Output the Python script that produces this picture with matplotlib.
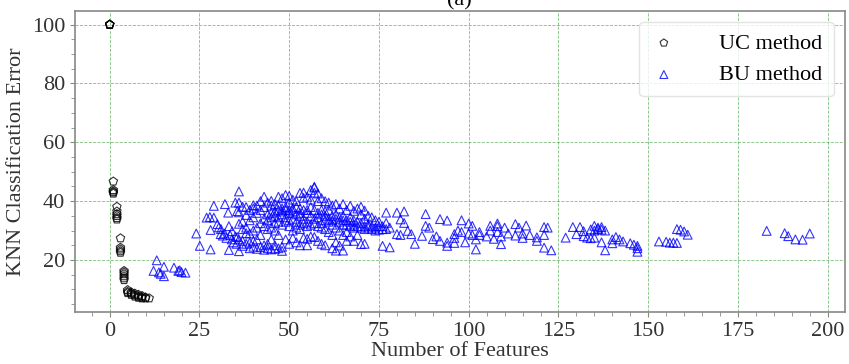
import numpy as np
import matplotlib
matplotlib.use("Agg")
import matplotlib.pyplot as plt
from matplotlib.ticker import MultipleLocator

plt.rcParams['font.family'] = ['Liberation Serif', 'DejaVu Serif']

# UC method: (number of features, error)
uc_x = [0, 0, 0, 0, 0,
        1, 1, 1, 1, 1,
        2, 2, 2, 2, 2, 2,
        3, 3, 3, 3, 3,
        4, 4, 4, 4, 4, 4,
        5, 5, 5, 6, 6, 6, 7, 7, 7, 8, 8, 8, 9, 9, 9, 10, 10, 11]
uc_y = [100, 100, 100, 100, 100,
        46.7, 43.8, 43.3, 43.0, 42.6,
        38.1, 36.5, 35.6, 35.0, 34.3, 33.8,
        27.4, 24.2, 23.6, 23.0, 22.5,
        16.3, 15.8, 15.2, 14.5, 13.8, 13.2,
        9.8, 9.2, 8.8, 9.0, 8.6, 8.2, 8.6, 8.0, 7.6, 8.2, 7.6, 7.2, 7.8, 7.3, 7.0, 7.3, 7.0, 7.0]

# BU method, small feature sets
bu_x_low = [12.2, 13.1, 13.7, 14.2, 15.1, 15.1, 17.9, 19.1, 19.5, 20.0, 21.1, 24.1, 25.1]
bu_y_low = [16.3, 19.9, 15.8, 15.3, 14.5, 17.7, 17.4, 16.3, 16.5, 15.9, 15.7, 29.0, 24.8]

bu_x_start = [27.0, 27.9, 28.1, 28.1, 29.0, 29.0, 30.0, 30.4, 30.9, 31.0, 31.5, 32.1, 32.0,
              32.5, 33.0, 33.2, 33.2, 33.5, 34.1, 34.0, 34.5, 35.0, 35.0, 35.5, 35.3, 35.5]
bu_y_start = [34.4, 34.6, 30.2, 23.6, 38.4, 34.4, 32.2, 31.1, 28.8, 30.5, 28.3, 39.0, 29.0,
              27.5, 36.1, 31.5, 23.4, 28.5, 29.8, 27.0, 26.0, 39.5, 28.0, 36.6, 25.5, 27.8]

# BU method, dense band: errors read per feature count
bu_cols = [36, 37, 38, 39, 40, 41, 42, 43, 44, 45, 46, 47, 48, 49, 50, 51, 52, 53, 54, 55, 56,
           57, 58, 59, 60, 61, 62, 63, 64, 65, 66, 67, 68, 69, 70, 71, 72, 73, 74, 75, 76, 77, 78]
bu_col_y = [
    [43.3, 39.5, 36.2, 32.3, 27.0, 23.0],
    [38.1, 33.0, 30.5, 26.5, 24.8],
    [38.0, 35.3, 31.0, 29.1, 25.5],
    [37.0, 33.5, 29.0, 25.9, 24.0],
    [38.6, 37.5, 34.5, 30.0, 26.5, 24.5],
    [38.5, 36.0, 31.0, 27.0, 23.8],
    [40.0, 37.0, 32.5, 28.5, 24.4],
    [41.5, 38.0, 34.0, 31.5, 25.0, 23.5],
    [39.5, 35.5, 33.5, 30.5, 25.5, 24.0],
    [40.1, 38.5, 36.0, 34.5, 31.0, 27.0, 23.6],
    [39.0, 36.5, 35.0, 32.5, 30.0, 25.0, 23.8],
    [41.5, 38.5, 37.0, 34.5, 33.0, 28.5, 24.0],
    [41.0, 37.5, 36.5, 35.5, 32.0, 24.5, 23.1],
    [42.1, 38.0, 37.0, 34.5, 33.0, 27.0],
    [41.8, 39.5, 37.0, 36.0, 33.5, 31.5, 25.5],
    [40.5, 37.5, 36.5, 34.0, 30.0, 27.5],
    [40.0, 38.0, 35.5, 33.0, 31.0, 26.0],
    [42.8, 37.5, 36.0, 35.0, 32.0, 30.5, 25.0],
    [42.9, 41.1, 37.0, 34.0, 32.5, 27.5],
    [41.5, 37.0, 36.0, 33.0, 31.5, 27.2, 25.0],
    [43.8, 40.5, 38.0, 35.0, 32.0, 28.0],
    [44.9, 44.6, 42.9, 37.0, 34.0, 32.5, 27.8],
    [42.6, 40.0, 36.0, 34.5, 31.5, 26.5],
    [41.0, 37.0, 35.5, 32.5, 31.0, 25.5],
    [40.0, 36.5, 35.0, 33.5, 30.5, 25.0],
    [39.5, 37.0, 34.0, 33.0, 29.5],
    [38.5, 35.0, 33.5, 32.0, 28.5, 24.0],
    [39.0, 35.5, 34.0, 31.0, 26.0, 23.2],
    [37.5, 34.5, 33.0, 30.0, 24.9],
    [39.0, 35.0, 33.5, 32.0, 28.5, 23.2],
    [37.0, 33.5, 32.0, 29.5, 26.5],
    [38.4, 34.5, 33.0, 31.5, 28.0],
    [36.7, 33.5, 32.0, 31.0, 26.5],
    [37.5, 33.0, 31.5, 28.5],
    [38.1, 35.5, 32.5, 31.0, 25.4],
    [36.8, 34.0, 31.5, 30.5, 25.5],
    [35.0, 32.0, 31.0],
    [34.5, 31.5, 30.5],
    [33.5, 31.0, 30.0],
    [33.0, 31.5, 30.3],
    [31.5, 30.5, 24.8],
    [36.1, 32.6, 30.5],
    [24.3, 31.0],
]

# BU method, sparse tail
bu_x_tail = [80, 80, 81, 81, 82, 82, 83, 84, 85, 87, 88, 88, 89, 90, 91, 92, 92, 94, 94, 94,
             96, 96, 96, 97, 98, 98, 99, 100, 100, 101, 101, 102, 102, 103, 103, 105, 106, 106,
             107, 108, 108, 108, 109, 109, 110, 111, 113, 113, 114, 115, 115, 116, 117, 119, 119,
             121, 121, 121, 122, 123, 127, 129, 130, 131, 132, 132, 133, 134, 134, 135, 135, 135,
             136, 136, 137, 137, 137, 138, 138, 140, 140, 141, 142, 143, 145, 146, 147, 147, 147,
             153, 155, 156, 157, 158, 158, 159, 160, 161, 183, 188, 189, 191, 193, 195]
bu_y_tail = [36.1, 28.8, 33.8, 28.5, 32.6, 36.5, 29.9, 28.8, 25.5, 28.2, 35.6, 31.6, 31.0, 27.1,
             28.0, 33.9, 26.5, 33.4, 24.8, 25.9, 28.8, 25.8, 27.5, 30.0, 33.5, 29.5, 26.0, 32.4,
             29.0, 31.6, 28.5, 23.6, 27.0, 28.5, 29.5, 28.0, 31.6, 30.0, 27.2, 32.4, 31.5, 29.5,
             25.4, 28.0, 31.0, 29.0, 32.2, 28.3, 31.0, 29.0, 27.5, 31.7, 28.5, 27.7, 26.5, 31.2,
             28.5, 24.2, 31.0, 23.3, 27.6, 31.2, 28.8, 31.2, 29.8, 28.1, 27.6, 27.4, 30.4, 31.6,
             30.0, 27.6, 31.0, 30.5, 31.2, 30.3, 26.0, 23.3, 30.0, 27.0, 25.7, 27.8, 27.0, 26.3,
             25.7, 25.2, 24.8, 24.0, 22.8, 26.3, 26.2, 25.9, 25.9, 30.5, 25.8, 30.3, 29.7, 28.6,
             29.9, 29.1, 28.1, 27.0, 26.9, 29.0]

bu_x = bu_x_low + bu_x_start + [c for c, ys in zip(bu_cols, bu_col_y) for _ in ys] + bu_x_tail
bu_y = bu_y_low + bu_y_start + [y for ys in bu_col_y for y in ys] + bu_y_tail

fig = plt.figure(figsize=(8.49, 3.64), dpi=100)
ax = fig.add_axes([0.088, 0.143, 0.907, 0.827])

ax.scatter(uc_x, uc_y, marker='p', s=40, facecolors='none', edgecolors='black',
           linewidths=0.8, alpha=0.8, label='UC method', zorder=3)
ax.scatter(bu_x, bu_y, marker='^', s=40, facecolors='none', edgecolors='blue',
           linewidths=0.8, alpha=0.8, label='BU method', zorder=3)

ax.xaxis.set_major_locator(MultipleLocator(25))
ax.xaxis.set_minor_locator(MultipleLocator(5))
ax.yaxis.set_minor_locator(MultipleLocator(5))
ax.set_yticks([20, 40, 60, 80, 100])

ax.grid(True, which='major', color='green', linestyle='--', linewidth=0.6, alpha=0.5)
for sp in ax.spines.values():
    sp.set_color('#888888')
    sp.set_linewidth(1.2)
ax.tick_params(which='both', colors='#888888', labelcolor='#333333', labelsize=16)
ax.tick_params(which='minor', length=3)

ax.set_xlabel('Number of Features', fontsize=16, color='#333333', labelpad=1)
ax.set_ylabel('KNN Classification Error', fontsize=16, color='#333333')
ax.set_title('(a)', fontsize=16, pad=4)

leg = ax.legend(loc='upper right', fontsize=16, frameon=True, fancybox=True,
                handlelength=1.2, handletextpad=1.9, borderpad=0.5, markerscale=0.9)
leg.get_frame().set_edgecolor('#dddddd')

fig.savefig('out.png', dpi=100)
